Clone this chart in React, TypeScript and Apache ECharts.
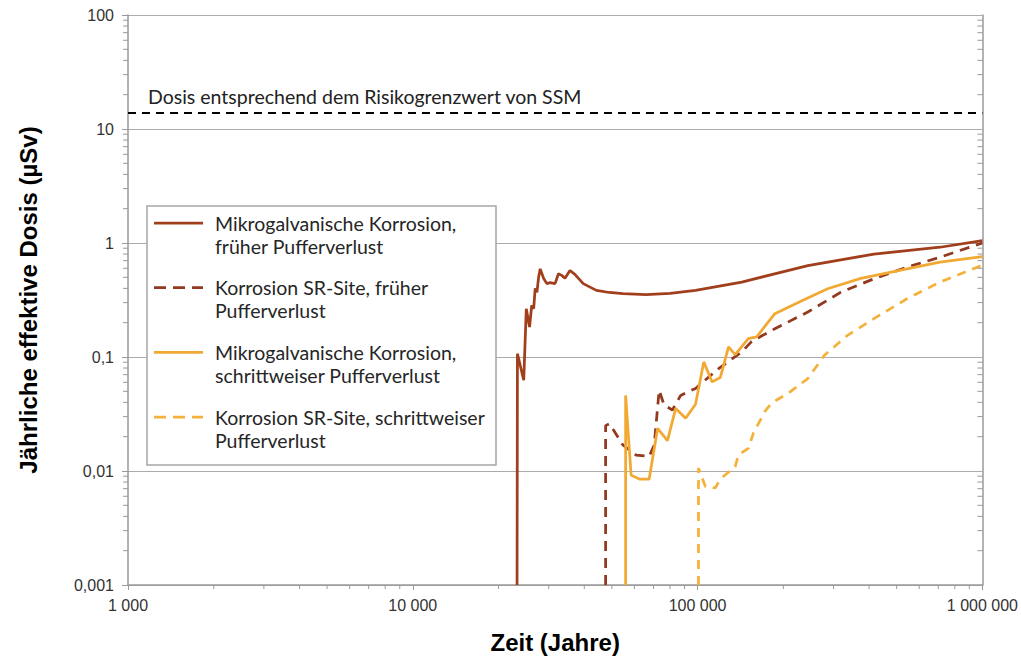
import React, { useEffect, useRef } from "react";
import * as echarts from "echarts";

// ---- data ----
const seriesNames = [
  "Mikrogalvanische Korrosion,\nfrüher Pufferverlust",
  "Korrosion SR-Site, früher\nPufferverlust",
  "Mikrogalvanische Korrosion,\nschrittweiser Pufferverlust",
  "Korrosion SR-Site, schrittweiser\nPufferverlust",
];

const microEarly: [number, number][] = [
  [23230, 0.001], [23300, 0.107], [24520, 0.0625], [25030, 0.265], [25700, 0.183],
  [26150, 0.283], [26570, 0.265], [26900, 0.4], [27280, 0.37], [27650, 0.5],
  [28010, 0.593], [28780, 0.49], [29550, 0.44], [30340, 0.45], [31590, 0.44],
  [32460, 0.537], [33330, 0.52], [34220, 0.49], [35630, 0.574], [37080, 0.53],
  [39660, 0.44], [44120, 0.384], [49000, 0.368], [54660, 0.359], [65890, 0.353],
  [80000, 0.362], [98330, 0.384], [142950, 0.454], [243800, 0.634], [416000, 0.8],
  [710000, 0.918], [1000000, 1.05],
];

const srEarly: [number, number][] = [
  [47530, 0.001], [47530, 0.025], [49090, 0.026], [54660, 0.0169], [60800, 0.0138],
  [67610, 0.0134], [70400, 0.0169], [73280, 0.051], [76270, 0.0378], [81590, 0.0343],
  [87200, 0.046], [98330, 0.053], [118500, 0.079], [143000, 0.111], [154900, 0.137],
  [186700, 0.177], [243800, 0.248], [318700, 0.371], [416000, 0.485], [543400, 0.614],
  [710000, 0.751], [1000000, 1.0],
];

const microStep: [number, number][] = [
  [55880, 0.001], [55880, 0.046], [58420, 0.0092], [62410, 0.0085], [67610, 0.0085],
  [72350, 0.0236], [78380, 0.0185], [83750, 0.0354], [90770, 0.029], [98330, 0.0385],
  [105100, 0.0906], [112400, 0.0605], [120100, 0.066], [128400, 0.1225], [135500, 0.105],
  [150700, 0.145], [161200, 0.15], [186700, 0.24], [231300, 0.31], [286200, 0.397],
  [374100, 0.49], [543400, 0.593], [710000, 0.68], [1000000, 0.76],
];

const srStep: [number, number][] = [
  [100700, 0.001], [100700, 0.0106], [106500, 0.0073], [115400, 0.0071], [120100, 0.0085],
  [135500, 0.0109], [139100, 0.0138], [150700, 0.0158], [156900, 0.0214], [172300, 0.0334],
  [181800, 0.0395], [207700, 0.0479], [243800, 0.0647], [278700, 0.1035], [336000, 0.155],
  [416000, 0.217], [543400, 0.324], [710000, 0.454], [1000000, 0.64],
];

const refDose = 14;
const refLabel = "Dosis entsprechend dem Risikogrenzwert von SSM";

const xTickLabels = ["1 000", "10 000", "100 000", "1 000 000"];
const yTickLabels = ["0,001", "0,01", "0,1", "1", "10", "100"];

const xDecades = [1000, 10000, 100000];
const yDecades = [0.001, 0.01, 0.1, 1, 10];
const minorMult = [2, 3, 4, 5, 6, 7, 8, 9];

const xTitle = "Zeit (Jahre)";
const yTitle = "Jährliche effektive Dosis (µSv)";

const colors = ["#A13F1D", "#92391F", "#F2A933", "#F4B13C"];

const xMinor = xDecades.flatMap((d) => minorMult.map((m) => d * m));
const yMinor = yDecades.flatMap((d) => minorMult.map((m) => +(d * m).toPrecision(3)));

const X_MIN = 1000;
const X_MAX = 1000000;
const Y_MIN = 0.001;
const Y_MAX = 100;

const tickColor = "#9A9A9A";

export default function App() {
  const ref = useRef<HTMLDivElement>(null);

  useEffect(() => {
    if (!ref.current) return;
    const chart = echarts.init(ref.current, undefined, { renderer: "svg" });

    const gridLeft = 128;
    const gridTop = 15;
    const gridW = 860;
    const gridH = 572;

    const tickSeries = (
      data: [number, number][],
      dx1: number, dy1: number, dx2: number, dy2: number
    ) => ({
      type: "custom",
      silent: true,
      z: 5,
      clip: false,
      data,
      renderItem: (_p: any, api: any) => {
        const pt = api.coord([api.value(0), api.value(1)]);
        return {
          type: "line",
          shape: { x1: pt[0] + dx1, y1: pt[1] + dy1, x2: pt[0] + dx2, y2: pt[1] + dy2 },
          style: { stroke: tickColor, lineWidth: 1 },
        };
      },
    });

    const lineSeries = (name: string, data: [number, number][], color: string, dashed: any) => ({
      type: "line",
      name,
      data,
      showSymbol: false,
      symbol: "none",
      smooth: false,
      clip: true,
      lineStyle: { color, width: 2.75, type: dashed },
      z: 3,
    });

    const legendItems: any[] = [];
    const legX = 147, legY = 206;
    legendItems.push({
      type: "rect",
      shape: { x: legX, y: legY, width: 349, height: 259 },
      style: { fill: "#fff", stroke: "#A6A6A6", lineWidth: 1.5 },
      z: 100,
    });
    const dashes: any[] = [null, [12, 7], null, [12, 7]];
    seriesNames.forEach((nm, i) => {
      const cy = 224 + i * 64.7;
      legendItems.push({
        type: "line",
        shape: { x1: 154, y1: cy - 1, x2: 203, y2: cy - 1 },
        style: { stroke: colors[i], lineWidth: 2.75, lineDash: dashes[i] },
        z: 101,
      });
      legendItems.push({
        type: "text",
        x: 215,
        y: cy - 12.5,
        style: {
          text: nm,
          fill: "#262626",
          font: "19.5px Lato",
          lineHeight: 23,
          textVerticalAlign: "top",
        },
        z: 101,
      });
    });

    chart.setOption({
      animation: false,
      backgroundColor: "#fff",
      grid: { left: gridLeft, top: gridTop, width: gridW, height: gridH, containLabel: false },
      xAxis: {
        type: "log",
        logBase: 10,
        min: X_MIN,
        max: X_MAX,
        name: xTitle,
        nameLocation: "middle",
        nameGap: 45,
        nameTextStyle: { fontSize: 24, fontWeight: "bold", color: "#000", fontFamily: "Liberation Sans" },
        axisLine: { show: true, lineStyle: { color: tickColor, width: 1.5 } },
        axisTick: { show: true, length: 5, lineStyle: { color: tickColor } },
        axisLabel: {
          fontSize: 16,
          color: "#333",
          fontFamily: "Liberation Sans",
          margin: 12,
          formatter: (v: number) => xTickLabels[Math.round(Math.log10(v)) - 3] ?? "",
        },
        splitLine: { show: false },
      },
      yAxis: [
        {
          type: "log",
          logBase: 10,
          min: Y_MIN,
          max: Y_MAX,
          name: yTitle,
          nameLocation: "middle",
          nameGap: 88,
          nameTextStyle: { fontSize: 24, fontWeight: "bold", color: "#000", fontFamily: "Liberation Sans" },
          axisLine: { show: true, lineStyle: { color: tickColor, width: 1.5 } },
          axisTick: { show: true, length: 6, lineStyle: { color: tickColor } },
          axisLabel: {
            fontSize: 16,
            color: "#333",
            fontFamily: "Liberation Sans",
            margin: 14,
            formatter: (v: number) => yTickLabels[Math.round(Math.log10(v)) + 3] ?? "",
          },
          splitLine: { show: true, lineStyle: { color: "#ABABAB", width: 1.2 } },
        },
        {
          type: "log",
          logBase: 10,
          min: Y_MIN,
          max: Y_MAX,
          position: "right",
          axisLine: { show: true, lineStyle: { color: tickColor, width: 1.5 } },
          axisTick: { show: false },
          axisLabel: { show: false },
          splitLine: { show: false },
        },
      ],
      series: [
        {
          ...lineSeries(seriesNames[0], microEarly, colors[0], "solid"),
          markLine: {
            silent: true,
            symbol: "none",
            data: [{ yAxis: refDose }],
            lineStyle: { color: "#000", width: 2, type: [8, 6] },
            label: {
              show: true,
              position: "insideStartTop",
              formatter: refLabel,
              color: "#222",
              fontSize: 19.5,
              fontFamily: "Lato",
              distance: [20, 6],
            },
          },
        },
        lineSeries(seriesNames[1], srEarly, colors[1], [10, 7]),
        lineSeries(seriesNames[2], microStep, colors[2], "solid"),
        lineSeries(seriesNames[3], srStep, colors[3], [9, 7]),
        tickSeries(xMinor.map((v) => [v, Y_MIN] as [number, number]), 0, 0, 0, 4),
        tickSeries(yMinor.map((v) => [X_MIN, v] as [number, number]), -5, 0, 0, 0),
        tickSeries(yMinor.map((v) => [X_MAX, v] as [number, number]), -5, 0, 0, 0),
      ],
      graphic: legendItems,
    });

    return () => chart.dispose();
  }, []);

  return (
    <div
      ref={ref}
      style={{ position: "fixed", left: 0, top: 0, width: 1021, height: 659, background: "#fff" }}
    />
  );
}
